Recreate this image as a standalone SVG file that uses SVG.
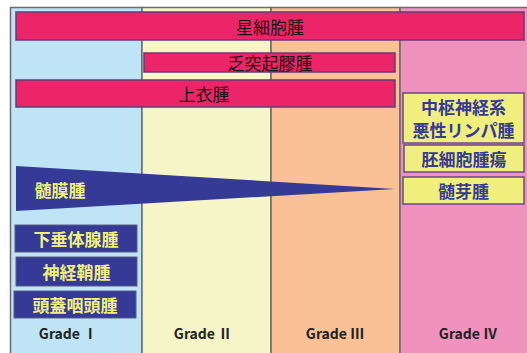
<svg xmlns="http://www.w3.org/2000/svg" width="527" height="353" viewBox="0 0 527 353">
<style>
.col{stroke:#6b6b6b;stroke-width:1.5}
.bar{fill:#ec2468;stroke:#6a3a7a;stroke-width:1.5}
.nav{fill:#353a96;stroke:#5a5a80;stroke-width:1}
.ybox{fill:#f0ee7c;stroke:#6a4a8a;stroke-width:1.5}
text{font-family:"Noto Sans CJK JP","Noto Sans CJK SC",sans-serif;text-anchor:middle;dominant-baseline:central}
.bt{font-size:17px;fill:#1a1010}
.yt{font-size:17px;fill:#f0f07a;font-weight:bold}
.nt{font-size:17px;fill:#353a96;font-weight:bold}
.gt{font-size:14px;fill:#222;font-weight:bold}
</style>
<rect x="0" y="0" width="527" height="353" fill="#ffffff"/>
<g id="columns">
<rect class="col" x="10.5" y="7.5" width="131.5" height="350" fill="#bfe4f6"/>
<rect class="col" x="142" y="7.5" width="129" height="350" fill="#f5f5c8"/>
<rect class="col" x="271" y="7.5" width="129" height="350" fill="#f9c195"/>
<rect class="col" x="400" y="7.5" width="130" height="350" fill="#ef92bd"/>
</g>
<g id="astrocytoma"><rect class="bar" x="16" y="12" width="508" height="28"/><text class="bt" x="270" y="26">星細胞腫</text></g>
<g id="oligodendroglioma"><rect class="bar" x="144" y="53" width="251" height="19"/><text class="bt" x="270" y="62.5">乏突起膠腫</text></g>
<g id="ependymoma"><rect class="bar" x="16" y="80" width="379" height="27"/><text class="bt" x="204" y="93.5">上衣腫</text></g>
<g id="meningioma"><polygon fill="#353a96" points="16,166 395,189 16,211"/><text class="yt" x="60" y="189">髄膜腫</text></g>
<g id="pituitary"><rect class="nav" x="15" y="225" width="122" height="27"/><text class="yt" x="76" y="238.5">下垂体腺腫</text></g>
<g id="schwannoma"><rect class="nav" x="16" y="257" width="121" height="29"/><text class="yt" x="76.5" y="271.5">神経鞘腫</text></g>
<g id="craniopharyngioma"><rect class="nav" x="14" y="291" width="122" height="27"/><text class="yt" x="75" y="304.5">頭蓋咽頭腫</text></g>
<g id="cns-lymphoma"><rect class="ybox" x="403" y="93" width="121" height="50"/><text class="nt" x="463.5" y="106">中枢神経系</text><text class="nt" x="463.5" y="129">悪性リンパ腫</text></g>
<g id="germ-cell"><rect class="ybox" x="404" y="145" width="120" height="27"/><text class="nt" x="464" y="158.5">胚細胞腫瘍</text></g>
<g id="medulloblastoma"><rect class="ybox" x="403" y="177" width="121" height="27"/><text class="nt" x="463.5" y="190.5">髄芽腫</text></g>
<g id="grades">
<text class="gt" x="68" y="333">Grade Ⅰ</text>
<text class="gt" x="203" y="333">Grade Ⅱ</text>
<text class="gt" x="335" y="333">Grade Ⅲ</text>
<text class="gt" x="468" y="333">Grade Ⅳ</text>
</g>
</svg>
